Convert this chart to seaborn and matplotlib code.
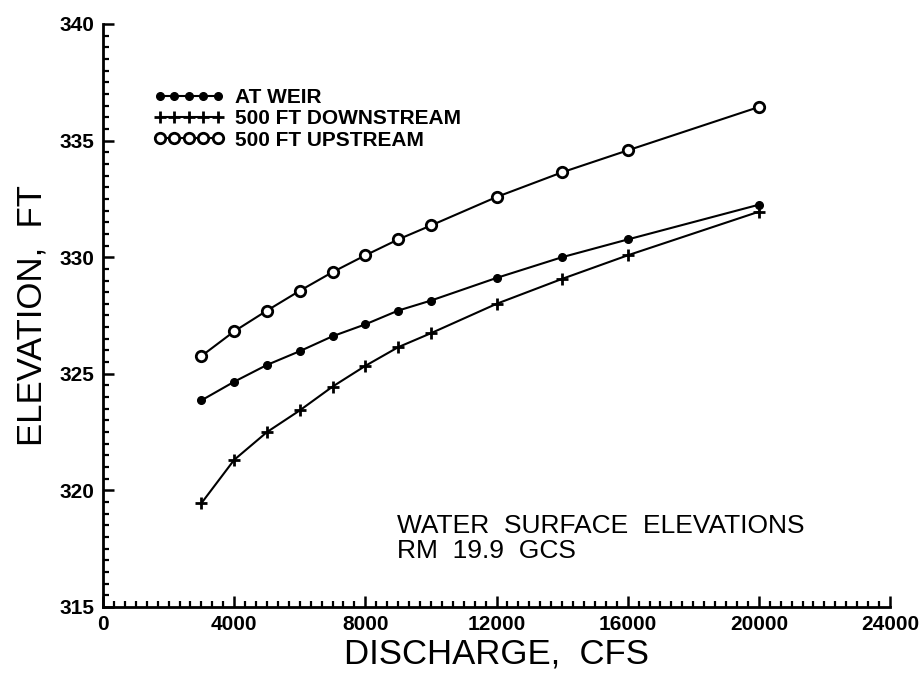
import matplotlib
matplotlib.use("Agg")
import matplotlib.pyplot as plt
from matplotlib.ticker import MultipleLocator
import seaborn as sns
import pandas as pd

discharge = [3000, 4000, 5000, 6000, 7000, 8000, 9000, 10000, 12000, 14000, 16000, 20000]
at_weir = [323.86, 324.66, 325.38, 325.97, 326.61, 327.12, 327.71, 328.14, 329.11, 330.0, 330.76, 332.25]
downstream = [319.45, 321.31, 322.5, 323.43, 324.45, 325.34, 326.14, 326.74, 328.0, 329.07, 330.08, 331.95]
upstream = [325.76, 326.82, 327.71, 328.56, 329.36, 330.08, 330.76, 331.36, 332.58, 333.64, 334.58, 336.44]
series_names = ["AT WEIR", "500 FT DOWNSTREAM", "500 FT UPSTREAM"]
x_ticks = [0, 4000, 8000, 12000, 16000, 20000, 24000]
y_ticks = [315, 320, 325, 330, 335, 340]

sns.set_theme(style="white")
plt.rcParams['font.family'] = ['Liberation Sans', 'DejaVu Sans']
plt.rcParams['text.color'] = 'black'
plt.rcParams['axes.labelcolor'] = 'black'
plt.rcParams['xtick.color'] = 'black'
plt.rcParams['ytick.color'] = 'black'

rows = []
for name, vals in zip(series_names, [at_weir, downstream, upstream]):
    for x, y in zip(discharge, vals):
        rows.append({"series": name, "discharge": x, "elevation": y})
df = pd.DataFrame(rows)

fig = plt.figure(figsize=(9.22, 6.8), dpi=100)
ax = fig.add_axes([103/922, 1-607/680, (890-103)/922, (607-24)/680])

styles = {
    "AT WEIR": dict(marker="o", markersize=5.5, markerfacecolor="black", markeredgecolor="black", markeredgewidth=1),
    "500 FT DOWNSTREAM": dict(marker="+", markersize=9, markeredgecolor="black", markeredgewidth=2.0),
    "500 FT UPSTREAM": dict(marker="o", markersize=7.5, markerfacecolor="white", markeredgecolor="black", markeredgewidth=2.0),
}
for name in series_names:
    sub = df[df["series"] == name]
    sns.lineplot(data=sub, x="discharge", y="elevation", ax=ax, color="black",
                 linewidth=1.5, label=name, **styles[name])

ax.set_xlim(0, 24000)
ax.set_ylim(315, 340)
ax.set_xticks(x_ticks)
ax.set_yticks(y_ticks)
ax.xaxis.set_minor_locator(MultipleLocator(1000/3))
ax.yaxis.set_minor_locator(MultipleLocator(0.5))
ax.tick_params(which="major", direction="in", length=8, width=1.8, color="black",
               labelcolor="black", labelsize=15, pad=6, left=True, bottom=True)
ax.tick_params(which="minor", direction="in", length=4.5, width=1.6, color="black",
               left=True, bottom=True)
for lab in ax.get_xticklabels() + ax.get_yticklabels():
    lab.set_fontweight("bold")

for side in ["top", "right"]:
    ax.spines[side].set_visible(False)
for side in ["left", "bottom"]:
    ax.spines[side].set_color("black")
    ax.spines[side].set_linewidth(2)

ax.set_xlabel("DISCHARGE,  CFS", fontsize=25, labelpad=2, color="black")
ax.set_ylabel("ELEVATION,  FT", fontsize=25, labelpad=8, color="black")

leg = ax.legend(loc="upper left", bbox_to_anchor=(145/922, 1-80/680), bbox_transform=fig.transFigure,
                frameon=False, numpoints=5, handlelength=3.4, handletextpad=0.5,
                labelspacing=0.1, prop={"size": 15, "weight": "bold"}, borderaxespad=0)
for t in leg.get_texts():
    t.set_color("black")

fig.text(397/922, 1-526/680, "WATER  SURFACE  ELEVATIONS", fontsize=19, va="center", ha="left", color="black")
fig.text(397/922, 1-551/680, "RM  19.9  GCS", fontsize=19, va="center", ha="left", color="black")

fig.savefig("out.png", dpi=100)
